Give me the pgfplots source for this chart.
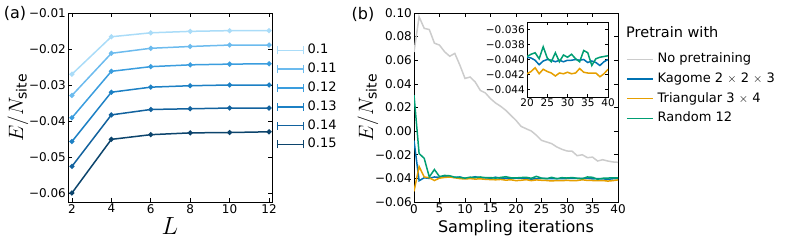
\documentclass[border=0pt]{standalone}
\usepackage{fontspec}
\setmainfont{DejaVu Sans}
\usepackage{pgfplots}
\usepackage{pgfplotstable}
\pgfplotsset{compat=1.18}
\definecolor{b1}{RGB}{170,220,248}
\definecolor{b2}{RGB}{108,187,238}
\definecolor{b3}{RGB}{58,157,222}
\definecolor{b4}{RGB}{28,128,196}
\definecolor{b5}{RGB}{18,98,158}
\definecolor{b6}{RGB}{12,68,108}
\definecolor{cgray}{RGB}{204,204,204}
\definecolor{cblue}{RGB}{0,114,178}
\definecolor{corange}{RGB}{230,159,0}
\definecolor{cgreen}{RGB}{0,158,115}
\newcommand\fs[1]{\fontsize{#1}{#1}\selectfont}

\pgfplotstableread{
x gray blue orange green
0 0.0670 -0.0080 -0.0510 0.0305
1 0.0968 -0.0420 -0.0300 -0.0190
2 0.0870 -0.0395 -0.0388 -0.0230
3 0.0860 -0.0400 -0.0395 -0.0388
4 0.0745 -0.0388 -0.0418 -0.0325
5 0.0728 -0.0392 -0.0398 -0.0385
6 0.0672 -0.0385 -0.0392 -0.0375
7 0.0634 -0.0388 -0.0388 -0.0378
8 0.0658 -0.0392 -0.0395 -0.0390
9 0.0558 -0.0388 -0.0402 -0.0392
10 0.0446 -0.0400 -0.0405 -0.0398
11 0.0458 -0.0396 -0.0402 -0.0390
12 0.0416 -0.0386 -0.0406 -0.0393
13 0.0345 -0.0396 -0.0404 -0.0388
14 0.0323 -0.0394 -0.0408 -0.0395
15 0.0275 -0.0400 -0.0410 -0.0393
16 0.0238 -0.0390 -0.0412 -0.0398
17 0.0210 -0.0400 -0.0409 -0.0392
18 0.0176 -0.0398 -0.0415 -0.0386
19 0.0133 -0.0401 -0.0412 -0.0395
20 0.0091 -0.0397 -0.0419 -0.0396
21 0.0040 -0.0398 -0.0416 -0.0393
22 0.0020 -0.0401 -0.0411 -0.0391
23 0.0001 -0.0407 -0.0419 -0.0399
24 -0.0035 -0.0402 -0.0413 -0.0383
25 -0.0078 -0.0400 -0.0416 -0.0398
26 -0.0092 -0.0401 -0.0418 -0.0403
27 -0.0106 -0.0403 -0.0422 -0.0391
28 -0.0134 -0.0401 -0.0418 -0.0403
29 -0.0154 -0.0403 -0.0419 -0.0394
30 -0.0168 -0.0401 -0.0417 -0.0397
31 -0.0170 -0.0401 -0.0419 -0.0393
32 -0.0208 -0.0400 -0.0418 -0.0399
33 -0.0200 -0.0401 -0.0412 -0.0403
34 -0.0225 -0.0400 -0.0417 -0.0388
35 -0.0220 -0.0404 -0.0418 -0.0391
36 -0.0253 -0.0402 -0.0418 -0.0408
37 -0.0242 -0.0404 -0.0418 -0.0399
38 -0.0253 -0.0408 -0.0423 -0.0397
39 -0.0261 -0.0403 -0.0419 -0.0396
40 -0.0264 -0.0400 -0.0413 -0.0395
}\trainB

\pgfplotsset{
  base/.style={scale only axis, axis line style={line width=0.8pt},
    scaled x ticks=false, scaled y ticks=false,
    tick align=inside, major tick length=4pt,
    tick style={black, line width=0.6pt},
    tick label style={font=\fs{12}},
    xticklabel style={inner sep=2pt}, yticklabel style={inner sep=2pt}},
}

\begin{document}
\begin{tikzpicture}[x=1pt,y=1pt]
\path[use as bounding box] (0,0) rectangle (789,247);

% ---------------- panel (a)
\begin{axis}[base, at={(68pt,45pt)}, anchor=south west,
  width=204pt, height=189pt,
  xmin=1.8, xmax=12.15, ymin=-0.0625, ymax=-0.01,
  xtick={2,4,6,8,10,12}, xticklabels={2,4,6,8,10,12},
  ytick={-0.06,-0.05,-0.04,-0.03,-0.02,-0.01},
  yticklabels={−0.06,−0.05,−0.04,−0.03,−0.02,−0.01},
  xlabel={$L$}, xlabel style={font=\fs{24}, at={(axis description cs:0.5,-0.125)}, anchor=center},
  ylabel={$E/N_{\mathrm{site}}$}, ylabel style={font=\fs{20}, at={(axis description cs:-0.245,0.5)}, anchor=center},
  every axis plot/.append style={line width=1.5pt, mark=*, mark size=1.7pt},
  legend image code/.code={
    \draw[#1, mark=none, line cap=butt] (0pt,0pt) -- (27pt,0pt);
    \draw[#1, mark=none, line width=1.2pt] (0.6pt,-4pt) -- (0.6pt,4pt);
    \draw[#1, mark=none, line width=1.2pt] (26.4pt,-4pt) -- (26.4pt,4pt);},
  legend style={draw=none, fill=none, at={(axis description cs:1.0196,0.8347)}, anchor=north west,
    inner sep=0pt, row sep=6.8pt, column sep=3pt, font=\fs{13},
    nodes={inner sep=0pt, text height=9.5pt, text depth=2.5pt}},
  legend cell align=left,
  clip=false,
]
\addplot[b1, error bars/.cd, y dir=both, y explicit, error mark=none, error bar style={line width=1pt}]
  coordinates {(2,-0.0270) (4,-0.0166) (6,-0.0155) +- (0,0.0003) (8,-0.0151) +- (0,0.0006) (10,-0.0149) +- (0,0.0004) (12,-0.0149) +- (0,0.0005)};
\addplot[b2] coordinates {(2,-0.0329) (4,-0.0212) (6,-0.0198) (8,-0.0193) (10,-0.0189) (12,-0.0189)};
\addplot[b3] coordinates {(2,-0.0391) (4,-0.0262) (6,-0.0249) (8,-0.0244) (10,-0.0242) (12,-0.0241)};
\addplot[b4] coordinates {(2,-0.0457) (4,-0.0320) (6,-0.0306) (8,-0.0302) (10,-0.0300) (12,-0.0300)};
\addplot[b5] coordinates {(2,-0.0526) (4,-0.0383) (6,-0.0368) (8,-0.0366) (10,-0.0364) (12,-0.0364)};
\addplot[b6] coordinates {(2,-0.0600) (4,-0.0451) (6,-0.0438) (8,-0.0433) (10,-0.0432) (12,-0.0430)};
\legend{0.1,0.11,0.12,0.13,0.14,0.15}
\node[font=\fs{16}] at (axis description cs:-0.26,0.995) {(a)};
\end{axis}

% ---------------- panel (b)
\begin{axis}[base, at={(414pt,45pt)}, anchor=south west,
  width=204pt, height=189pt,
  xmin=0, xmax=40, ymin=-0.06, ymax=0.10,
  xtick={0,5,...,40}, xticklabels={0,5,10,15,20,25,30,35,40},
  ytick={-0.06,-0.04,-0.02,0,0.02,0.04,0.06,0.08,0.10},
  yticklabels={−0.06,−0.04,−0.02,0.00,0.02,0.04,0.06,0.08,0.10},
  xlabel={Sampling iterations}, xlabel style={font=\fs{16}, at={(axis description cs:0.5,-0.138)}, anchor=center},
  ylabel={$E/N_{\mathrm{site}}$}, ylabel style={font=\fs{20}, at={(axis description cs:-0.2255,0.5)}, anchor=center},
  every axis plot/.append style={line width=1.5pt, mark=none},
  legend image code/.code={\draw[#1] (0pt,0pt) -- (26pt,0pt);},
  legend style={draw=none, fill=none, at={(axis description cs:1.039,0.787)}, anchor=north west,
    inner sep=0pt, row sep=7.6pt, column sep=4pt, font=\fs{13},
    nodes={inner sep=0pt, text height=9.5pt, text depth=2.5pt}},
  legend cell align=left,
]
\addplot[cgray] table[x=x, y=gray] {\trainB};
\addplot[cblue] table[x=x, y=blue] {\trainB};
\addplot[corange] table[x=x, y=orange] {\trainB};
\addplot[cgreen] table[x=x, y=green] {\trainB};
\legend{No pretraining, Kagome 2 $\times$ 2 $\times$ 3, Triangular 3 $\times$ 4, Random 12}
\end{axis}
\node[font=\fs{16}, anchor=center] at (363,233) {(b)};
\node[font=\fs{14.5}, anchor=west, inner sep=0pt] at (626,215) {Pretrain with};

% ---------------- inset
\begin{axis}[base, at={(527pt,150pt)}, anchor=south west,
  width=81pt, height=75pt,
  axis background/.style={fill=white},
  xmin=20, xmax=40, ymin=-0.045, ymax=-0.035,
  major tick length=3pt,
  tick label style={font=\fs{10.5}},
  xtick={20,25,30,35,40}, xticklabels={20,25,30,35,40},
  ytick={-0.044,-0.042,-0.040,-0.038,-0.036},
  yticklabels={−0.044,−0.042,−0.040,−0.038,−0.036},
  every axis plot/.append style={line width=1.5pt, mark=none},
]
\addplot[cblue] table[x=x, y=blue] {\trainB};
\addplot[corange] table[x=x, y=orange] {\trainB};
\addplot[cgreen] table[x=x, y=green] {\trainB};
\end{axis}
\end{tikzpicture}
\end{document}
